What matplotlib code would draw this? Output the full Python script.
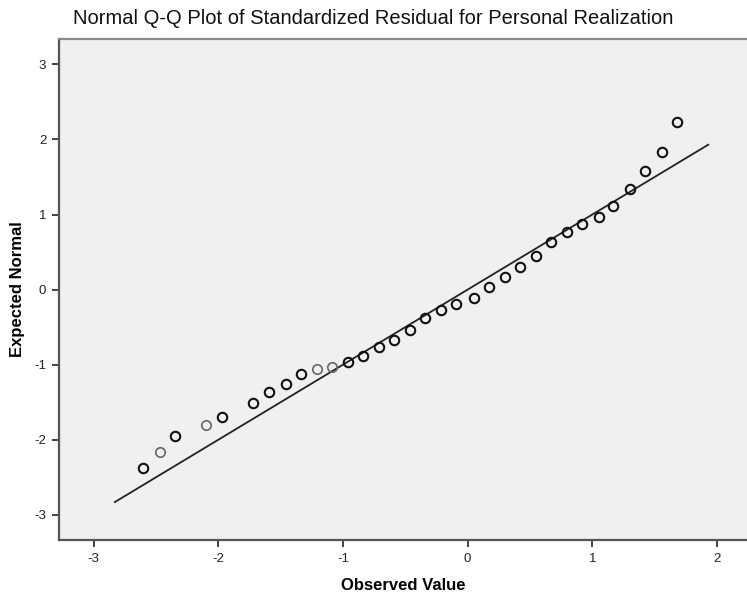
import matplotlib
matplotlib.use("Agg")
import matplotlib.pyplot as plt

# Data
observed = [-2.60, -2.47, -2.35, -2.10, -1.97, -1.72, -1.59, -1.46, -1.34, -1.21,
            -1.09, -0.96, -0.84, -0.71, -0.59, -0.46, -0.34, -0.21, -0.09, 0.05,
            0.17, 0.30, 0.42, 0.55, 0.67, 0.80, 0.92, 1.05, 1.17, 1.30,
            1.42, 1.56, 1.68]
expected = [-2.38, -2.16, -1.95, -1.80, -1.70, -1.51, -1.37, -1.26, -1.13, -1.06,
            -1.03, -0.97, -0.88, -0.77, -0.67, -0.54, -0.38, -0.27, -0.19, -0.11,
            0.03, 0.17, 0.30, 0.45, 0.63, 0.77, 0.87, 0.97, 1.11, 1.34,
            1.58, 1.83, 2.23]
# number of overlapping cases at each point (single cases render lighter)
cases = [2, 1, 2, 1, 2, 2, 2, 2, 2, 1,
         1, 2, 2, 2, 2, 2, 2, 2, 2, 2,
         2, 2, 2, 2, 2, 2, 2, 2, 2, 2,
         2, 2, 2]
ref_line = [-2.83, 1.93]
xticks = [-3, -2, -1, 0, 1, 2]
yticks = [-3, -2, -1, 0, 1, 2, 3]

plt.rcParams['font.family'] = ['Liberation Sans', 'DejaVu Sans']

fig = plt.figure(figsize=(7.47, 5.96), dpi=100)
fig.patch.set_facecolor('white')
ax = fig.add_axes([58.7 / 747, 1 - 540 / 596, 1 - 58.7 / 747, (540 - 39) / 596])
ax.set_facecolor('#f0f0f0')

ax.plot(ref_line, ref_line, color='#222222', lw=1.3, zorder=2)
for xv, yv, c in zip(observed, expected, cases):
    ax.plot([xv], [yv], marker='o', ms=6.8, mfc='none',
            mec='#111111' if c > 1 else '#666666', mew=1.5 if c > 1 else 1.2,
            ls='none', zorder=3)

ax.set_xlim(-3.28, 2.241)
ax.set_ylim(-3.335, 3.338)
ax.set_xticks(xticks)
ax.set_yticks(yticks)
ax.set_xticklabels([str(t) for t in xticks])
ax.set_yticklabels([str(t) for t in yticks])
ax.tick_params(direction='out', length=5, width=1.2, color='#222222',
               labelsize=9.5, labelcolor='#222222', pad=4)

for s in ['left', 'bottom']:
    ax.spines[s].set_color('#555555')
    ax.spines[s].set_linewidth(1.6)
ax.spines['top'].set_color('#888888')
ax.spines['top'].set_linewidth(1.6)
ax.spines['right'].set_visible(False)

ax.set_xlabel('Observed Value', fontsize=12, fontweight='bold', va='center')
ax.set_ylabel('Expected Normal', fontsize=12, fontweight='bold', va='center')
ax.xaxis.set_label_coords(0.5, (540 - 585) / 501)
ax.yaxis.set_label_coords((18 - 58.7) / 688.3, 0.5)

fig.text(373 / 747, 1 - 19 / 596, 'Normal Q-Q Plot of Standardized Residual for Personal Realization',
         ha='center', va='center', fontsize=14.5, color='#111111')

fig.savefig('out.png', dpi=100, facecolor='white')
